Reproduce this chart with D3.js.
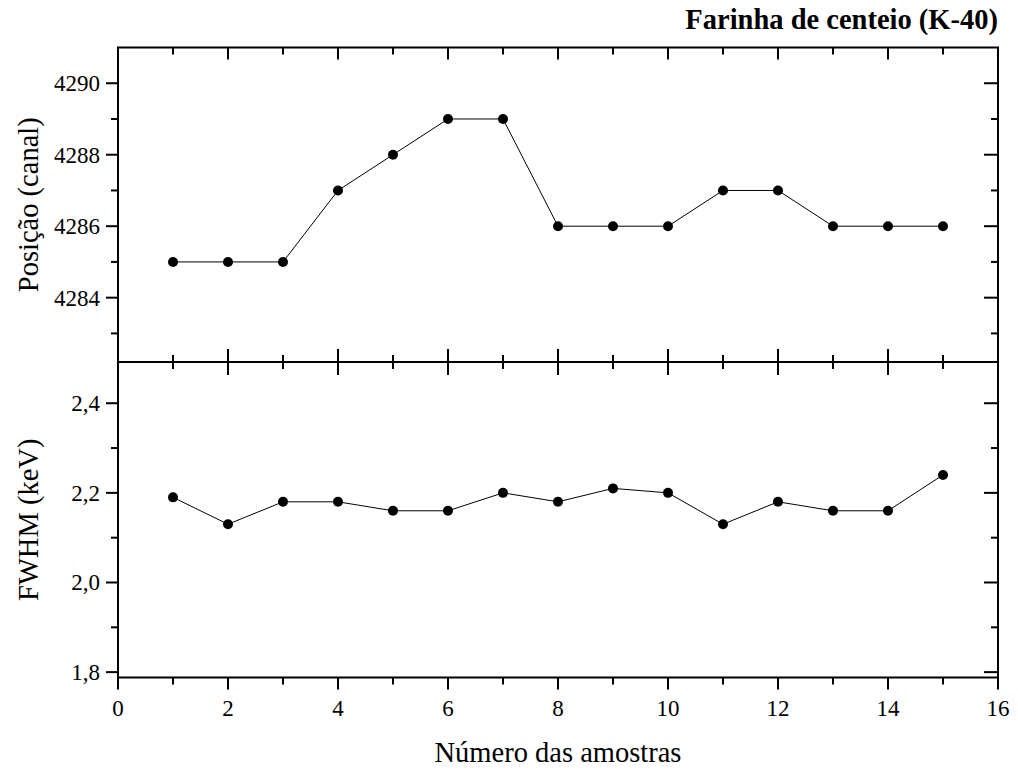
<!DOCTYPE html>
<html>
<head>
<meta charset="utf-8">
<script src="https://cdn.jsdelivr.net/npm/d3@7"></script>
<style>
  body { margin: 0; background: #fff; }
  text { font-family: "Liberation Serif", "Times New Roman", serif; fill: #000; }
</style>
</head>
<body>
<script>
// Sample numbers
var amostras = [1, 2, 3, 4, 5, 6, 7, 8, 9, 10, 11, 12, 13, 14, 15];
// Peak position (channel)
var posicao = [4285, 4285, 4285, 4287, 4288, 4289, 4289, 4286, 4286, 4286, 4287, 4287, 4286, 4286, 4286];
// FWHM (keV)
var fwhm = [2.19, 2.13, 2.18, 2.18, 2.16, 2.16, 2.20, 2.18, 2.21, 2.20, 2.13, 2.18, 2.16, 2.16, 2.24];

var xTicks = [0, 2, 4, 6, 8, 10, 12, 14, 16];
var posTicks = [4284, 4286, 4288, 4290];
var fwhmTicks = [1.8, 2.0, 2.2, 2.4];

var titulo = "Farinha de centeio (K-40)";
var xTitulo = "Número das amostras";
var yTituloTop = "Posição (canal)";
var yTituloBottom = "FWHM (keV)";

var W = 1018, H = 771;
// frame edges (note: "top" is a reserved window global, so use other names)
var xL = 118, xR = 998, yT = 47.5, yM = 362, yB = 677.5;

var svg = d3.select("body").append("svg")
    .attr("width", W)
    .attr("height", H);

var x = d3.scaleLinear().domain([0, 16]).range([xL, xR]);
var yTop = d3.scaleLinear().domain([4282.2, 4291]).range([yM, yT]);
var yBot = d3.scaleLinear().domain([1.788, 2.492]).range([yB, yM]);

var comma = function(v) { return d3.format(".1f")(v).replace(".", ","); };

// draw ticks helpers
function ticksH(y, values, len, dir) {
  svg.append("g").selectAll("line")
    .data(values)
    .enter().append("line")
      .attr("x1", function(d) { return x(d); })
      .attr("x2", function(d) { return x(d); })
      .attr("y1", y)
      .attr("y2", y + dir * len)
      .attr("stroke", "#000")
      .attr("stroke-width", 2);
}
function ticksV(xp, scale, values, len, dir) {
  svg.append("g").selectAll("line")
    .data(values)
    .enter().append("line")
      .attr("x1", xp)
      .attr("x2", xp + dir * len)
      .attr("y1", function(d) { return scale(d); })
      .attr("y2", function(d) { return scale(d); })
      .attr("stroke", "#000")
      .attr("stroke-width", 2);
}

var xMinor = d3.range(1, 16, 2);
var posMinor = [4283, 4285, 4287, 4289];
var fwhmMinor = [1.9, 2.1, 2.3];

// top panel ticks
ticksH(yT, xTicks, 12, 1);
ticksH(yT, xMinor, 7, 1);
ticksH(yM, xTicks, 13, -1);
ticksH(yM, xMinor, 7, -1);
ticksV(xL, yTop, posTicks, 12, -1);
ticksV(xL, yTop, posMinor, 7, -1);
ticksV(xR, yTop, posTicks, 14, -1);
ticksV(xR, yTop, posMinor, 7, -1);

// bottom panel ticks
ticksH(yM, xTicks, 13, 1);
ticksH(yM, xMinor, 7, 1);
ticksH(yB, xTicks, 12, 1);
ticksH(yB, xMinor, 7, 1);
ticksV(xL, yBot, fwhmTicks, 12, -1);
ticksV(xL, yBot, fwhmMinor, 7, -1);
ticksV(xR, yBot, fwhmTicks, 14, -1);
ticksV(xR, yBot, fwhmMinor, 7, -1);

// frames
svg.append("rect")
    .attr("x", xL).attr("y", yT)
    .attr("width", xR - xL).attr("height", yB - yT)
    .attr("fill", "none").attr("stroke", "#000").attr("stroke-width", 2);
svg.append("line")
    .attr("x1", xL).attr("x2", xR)
    .attr("y1", yM).attr("y2", yM)
    .attr("stroke", "#000").attr("stroke-width", 2);

// tick labels
svg.append("g").selectAll("text")
  .data(xTicks)
  .enter().append("text")
    .attr("x", function(d) { return x(d); })
    .attr("y", 716)
    .attr("text-anchor", "middle")
    .attr("font-size", 23)
    .text(function(d) { return d; });

svg.append("g").selectAll("text")
  .data(posTicks)
  .enter().append("text")
    .attr("x", xL - 18)
    .attr("y", function(d) { return yTop(d) + 8; })
    .attr("text-anchor", "end")
    .attr("font-size", 23)
    .text(function(d) { return d; });

svg.append("g").selectAll("text")
  .data(fwhmTicks)
  .enter().append("text")
    .attr("x", xL - 18)
    .attr("y", function(d) { return yBot(d) + 8; })
    .attr("text-anchor", "end")
    .attr("font-size", 23)
    .text(function(d) { return comma(d); });

// titles
svg.append("text")
    .attr("x", xR)
    .attr("y", 29)
    .attr("text-anchor", "end")
    .attr("font-size", 28.5)
    .attr("font-weight", "bold")
    .text(titulo);

svg.append("text")
    .attr("x", (xL + xR) / 2)
    .attr("y", 762)
    .attr("text-anchor", "middle")
    .attr("font-size", 28.5)
    .text(xTitulo);

svg.append("text")
    .attr("transform", "translate(38," + ((yT + yM) / 2) + ") rotate(-90)")
    .attr("text-anchor", "middle")
    .attr("font-size", 28.5)
    .text(yTituloTop);

svg.append("text")
    .attr("transform", "translate(38," + ((yM + yB) / 2) + ") rotate(-90)")
    .attr("text-anchor", "middle")
    .attr("font-size", 28.5)
    .text(yTituloBottom);

// series
function drawSeries(values, scale) {
  var data = amostras.map(function(a, i) { return {x: a, y: values[i]}; });
  var line = d3.line()
    .x(function(d) { return x(d.x); })
    .y(function(d) { return scale(d.y); });
  svg.append("path")
    .datum(data)
    .attr("d", line)
    .attr("fill", "none")
    .attr("stroke", "#000")
    .attr("stroke-width", 1);
  svg.append("g").selectAll("circle")
    .data(data)
    .enter().append("circle")
      .attr("cx", function(d) { return x(d.x); })
      .attr("cy", function(d) { return scale(d.y); })
      .attr("r", 5)
      .attr("fill", "#000");
}
drawSeries(posicao, yTop);
drawSeries(fwhm, yBot);
</script>
</body>
</html>
